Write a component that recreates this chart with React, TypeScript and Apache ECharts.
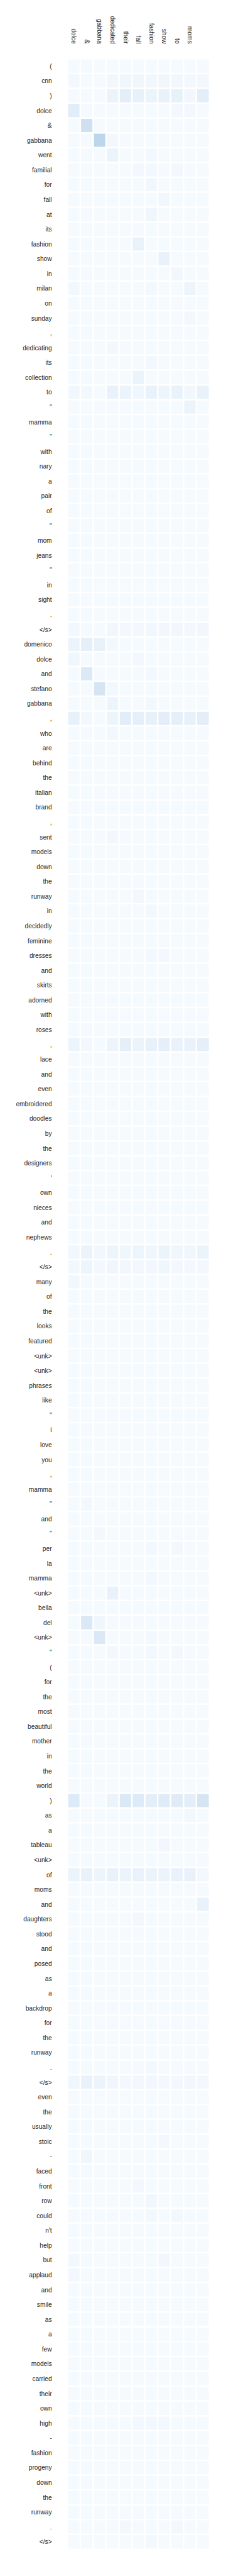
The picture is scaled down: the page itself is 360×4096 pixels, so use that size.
import React, { useEffect, useRef } from "react";
import * as echarts from "echarts";

const COL_LABELS = ["dolce", "&", "gabbana", "dedicated", "their", "fall", "fashion", "show", "to", "moms", ""];

const ROW_LABELS = [
  "(", "cnn", ")", "dolce", "&", "gabbana", "went", "familial", "for", "fall", "at", "its", "fashion", "show", "in",
  "milan", "on", "sunday", ",", "dedicating", "its", "collection", "to", "\"", "mamma", "\"", "with", "nary", "a", "pair",
  "of", "\"", "mom", "jeans", "\"", "in", "sight", ".", "</s>", "domenico", "dolce", "and", "stefano", "gabbana", ",",
  "who", "are", "behind", "the", "italian", "brand", ",", "sent", "models", "down", "the", "runway", "in", "decidedly", "feminine",
  "dresses", "and", "skirts", "adorned", "with", "roses", ",", "lace", "and", "even", "embroidered", "doodles", "by", "the", "designers",
  "'", "own", "nieces", "and", "nephews", ".", "</s>", "many", "of", "the", "looks", "featured", "<unk>", "<unk>", "phrases",
  "like", "\"", "i", "love", "you", ",", "mamma", "\"", "and", "\"", "per", "la", "mamma", "<unk>", "bella",
  "del", "<unk>", "\"", "(", "for", "the", "most", "beautiful", "mother", "in", "the", "world", ")", "as", "a",
  "tableau", "<unk>", "of", "moms", "and", "daughters", "stood", "and", "posed", "as", "a", "backdrop", "for", "the", "runway",
  ".", "</s>", "even", "the", "usually", "stoic", "-", "faced", "front", "row", "could", "n't", "help", "but", "applaud",
  "and", "smile", "as", "a", "few", "models", "carried", "their", "own", "high", "-", "fashion", "progeny", "down", "the", "runway", ".", "</s>",
];

// attention weights, in hundredths (one row per source token, one column per summary token)
const WEIGHTS: number[][] = [
  [1, 1, 1, 1, 1, 1, 1, 1, 1, 1, 1],
  [2, 1, 1, 3, 4, 4, 3, 4, 3, 2, 2],
  [1, 1, 1, 6, 10, 8, 6, 7, 8, 3, 10],
  [11, 1, 1, 1, 1, 1, 1, 1, 2, 2, 1],
  [1, 21, 1, 1, 1, 1, 1, 1, 1, 1, 1],
  [1, 1, 28, 2, 1, 1, 1, 1, 1, 1, 1],
  [1, 1, 1, 6, 1, 1, 2, 1, 1, 1, 1],
  [1, 1, 1, 1, 1, 2, 2, 1, 2, 1, 1],
  [1, 1, 1, 1, 1, 1, 3, 1, 1, 1, 1],
  [1, 1, 1, 1, 1, 1, 1, 3, 1, 1, 1],
  [1, 1, 1, 1, 1, 1, 4, 1, 1, 1, 1],
  [1, 1, 1, 1, 1, 1, 1, 1, 1, 1, 1],
  [1, 1, 1, 1, 1, 7, 1, 1, 1, 1, 1],
  [1, 1, 1, 1, 1, 1, 1, 7, 1, 1, 1],
  [1, 1, 1, 1, 1, 1, 1, 1, 3, 1, 1],
  [2, 1, 1, 1, 1, 1, 2, 1, 1, 5, 1],
  [1, 1, 1, 1, 1, 1, 1, 1, 1, 1, 1],
  [1, 1, 1, 1, 1, 1, 1, 1, 1, 2, 1],
  [1, 1, 1, 1, 1, 1, 1, 1, 1, 1, 1],
  [1, 1, 1, 2, 1, 1, 1, 1, 1, 1, 1],
  [1, 1, 1, 1, 1, 1, 2, 1, 1, 1, 1],
  [1, 1, 1, 1, 1, 6, 1, 1, 1, 1, 1],
  [3, 2, 1, 7, 6, 4, 7, 5, 7, 3, 7],
  [1, 1, 1, 1, 1, 1, 1, 1, 1, 6, 1],
  [1, 1, 1, 1, 1, 1, 1, 1, 1, 1, 1],
  [1, 1, 1, 1, 1, 1, 1, 1, 1, 1, 1],
  [1, 1, 1, 1, 1, 1, 1, 1, 1, 1, 1],
  [1, 1, 1, 1, 1, 1, 1, 1, 1, 1, 1],
  [1, 1, 1, 1, 1, 1, 1, 1, 1, 1, 1],
  [1, 1, 1, 1, 1, 1, 1, 1, 1, 1, 1],
  [1, 1, 1, 1, 1, 1, 1, 1, 1, 1, 1],
  [1, 1, 1, 1, 1, 1, 1, 1, 1, 1, 1],
  [1, 1, 1, 1, 1, 1, 1, 1, 1, 1, 1],
  [1, 1, 1, 1, 1, 1, 1, 1, 1, 1, 1],
  [1, 1, 1, 1, 1, 1, 1, 1, 1, 1, 1],
  [1, 1, 1, 1, 1, 1, 1, 1, 1, 1, 1],
  [1, 1, 1, 1, 1, 1, 1, 1, 1, 1, 1],
  [1, 1, 1, 1, 1, 1, 1, 1, 1, 1, 1],
  [2, 1, 1, 3, 2, 2, 3, 3, 3, 2, 3],
  [6, 9, 7, 2, 1, 1, 1, 1, 1, 1, 1],
  [4, 1, 1, 1, 1, 2, 1, 1, 1, 1, 1],
  [1, 14, 1, 1, 1, 1, 2, 1, 1, 1, 1],
  [1, 1, 17, 2, 1, 1, 1, 1, 1, 1, 1],
  [1, 1, 1, 5, 1, 1, 2, 1, 1, 1, 1],
  [8, 2, 1, 5, 11, 9, 8, 10, 9, 8, 10],
  [1, 1, 1, 2, 1, 1, 1, 1, 1, 1, 1],
  [1, 1, 1, 1, 1, 1, 1, 1, 1, 1, 1],
  [1, 1, 1, 1, 1, 1, 1, 1, 1, 1, 1],
  [1, 1, 1, 1, 1, 1, 1, 1, 1, 1, 1],
  [1, 1, 1, 1, 1, 1, 1, 1, 1, 1, 1],
  [1, 1, 1, 1, 1, 1, 1, 1, 1, 1, 1],
  [1, 1, 1, 1, 1, 1, 1, 1, 1, 1, 1],
  [1, 1, 1, 2, 1, 1, 1, 1, 1, 1, 1],
  [1, 1, 1, 1, 1, 1, 1, 1, 1, 1, 1],
  [1, 1, 1, 1, 1, 1, 1, 1, 1, 1, 1],
  [1, 1, 1, 1, 1, 1, 1, 1, 1, 1, 1],
  [1, 1, 1, 1, 1, 2, 1, 1, 1, 1, 1],
  [1, 1, 1, 1, 1, 1, 2, 1, 1, 1, 1],
  [1, 1, 1, 1, 1, 1, 1, 1, 1, 1, 1],
  [1, 1, 1, 1, 1, 1, 1, 1, 1, 1, 1],
  [1, 1, 1, 1, 1, 1, 2, 2, 1, 1, 1],
  [1, 1, 1, 1, 1, 1, 1, 1, 1, 1, 1],
  [1, 1, 1, 1, 1, 1, 1, 1, 1, 1, 1],
  [1, 1, 1, 1, 1, 1, 1, 1, 1, 1, 1],
  [1, 1, 1, 1, 1, 1, 1, 1, 1, 1, 1],
  [1, 1, 1, 1, 1, 1, 1, 1, 1, 1, 1],
  [5, 2, 1, 5, 9, 6, 8, 9, 7, 7, 9],
  [1, 1, 1, 1, 1, 1, 1, 1, 1, 1, 1],
  [1, 1, 1, 1, 1, 1, 1, 1, 1, 1, 1],
  [1, 1, 1, 1, 1, 1, 1, 1, 1, 1, 1],
  [1, 1, 1, 1, 1, 1, 1, 1, 1, 1, 1],
  [1, 1, 1, 1, 1, 1, 1, 1, 1, 1, 1],
  [1, 1, 1, 1, 1, 1, 1, 1, 1, 1, 1],
  [1, 1, 1, 1, 1, 1, 1, 1, 1, 1, 1],
  [1, 1, 1, 1, 1, 1, 1, 1, 1, 1, 1],
  [1, 1, 1, 1, 1, 1, 1, 1, 1, 1, 1],
  [1, 1, 1, 1, 1, 1, 1, 1, 1, 1, 1],
  [1, 1, 1, 1, 1, 1, 1, 1, 1, 1, 1],
  [1, 1, 1, 1, 1, 1, 1, 1, 1, 1, 1],
  [1, 1, 1, 1, 1, 1, 1, 1, 1, 1, 1],
  [3, 6, 3, 5, 4, 5, 4, 6, 4, 4, 6],
  [2, 5, 2, 4, 3, 3, 3, 4, 2, 2, 2],
  [3, 1, 1, 1, 1, 1, 1, 1, 1, 1, 1],
  [1, 1, 1, 1, 1, 1, 1, 1, 1, 1, 1],
  [1, 1, 1, 1, 1, 1, 1, 1, 1, 1, 1],
  [1, 1, 1, 1, 1, 1, 1, 1, 1, 1, 1],
  [1, 1, 1, 1, 1, 1, 1, 1, 1, 1, 1],
  [1, 1, 1, 1, 1, 1, 1, 1, 1, 1, 1],
  [1, 1, 1, 1, 1, 1, 1, 1, 1, 1, 1],
  [1, 1, 1, 1, 1, 1, 1, 1, 1, 1, 1],
  [1, 1, 1, 1, 1, 1, 1, 1, 1, 1, 1],
  [1, 1, 1, 1, 1, 1, 1, 1, 1, 1, 1],
  [1, 1, 1, 1, 1, 1, 1, 1, 1, 1, 1],
  [1, 1, 1, 1, 1, 1, 1, 1, 1, 1, 1],
  [1, 1, 1, 1, 1, 1, 1, 1, 1, 1, 1],
  [1, 1, 1, 1, 1, 1, 1, 1, 1, 1, 1],
  [1, 1, 1, 1, 1, 1, 1, 1, 1, 1, 1],
  [1, 2, 1, 1, 1, 1, 1, 1, 1, 1, 1],
  [1, 1, 1, 1, 1, 1, 1, 1, 1, 1, 1],
  [1, 1, 2, 1, 1, 1, 1, 1, 1, 1, 1],
  [1, 1, 1, 1, 1, 1, 2, 1, 2, 1, 1],
  [1, 1, 1, 1, 1, 1, 1, 1, 1, 1, 1],
  [1, 1, 1, 1, 1, 1, 2, 1, 1, 1, 1],
  [1, 1, 1, 7, 1, 1, 1, 1, 1, 1, 1],
  [1, 1, 1, 1, 1, 1, 1, 1, 1, 1, 1],
  [1, 15, 4, 1, 1, 1, 1, 1, 1, 1, 1],
  [1, 1, 14, 1, 1, 1, 2, 1, 1, 1, 1],
  [1, 1, 1, 2, 1, 1, 2, 1, 2, 1, 1],
  [1, 1, 1, 1, 1, 1, 1, 1, 1, 1, 1],
  [1, 1, 1, 1, 1, 1, 1, 1, 1, 1, 1],
  [1, 1, 1, 1, 1, 1, 1, 1, 1, 1, 1],
  [1, 1, 1, 1, 1, 1, 1, 1, 1, 1, 1],
  [1, 1, 1, 1, 1, 1, 1, 1, 1, 1, 1],
  [1, 1, 1, 1, 1, 1, 1, 1, 1, 1, 1],
  [1, 1, 1, 1, 1, 1, 1, 1, 1, 1, 1],
  [1, 1, 1, 1, 1, 1, 1, 1, 1, 1, 1],
  [1, 1, 1, 1, 1, 1, 1, 1, 1, 1, 1],
  [13, 1, 1, 6, 14, 13, 10, 12, 12, 10, 17],
  [1, 1, 1, 1, 1, 1, 1, 1, 1, 2, 1],
  [1, 1, 1, 1, 1, 1, 1, 1, 1, 1, 1],
  [1, 1, 1, 1, 1, 1, 1, 3, 1, 1, 1],
  [1, 1, 1, 1, 1, 1, 1, 1, 1, 1, 1],
  [6, 7, 5, 7, 6, 7, 6, 6, 7, 7, 2],
  [1, 1, 1, 1, 1, 1, 1, 1, 1, 1, 1],
  [1, 1, 1, 1, 1, 1, 1, 1, 1, 1, 7],
  [1, 1, 1, 1, 1, 2, 1, 1, 1, 1, 1],
  [1, 1, 1, 1, 1, 1, 1, 1, 1, 1, 1],
  [1, 1, 1, 1, 1, 1, 1, 1, 1, 1, 1],
  [1, 1, 1, 1, 1, 1, 1, 1, 1, 1, 1],
  [1, 1, 1, 1, 1, 1, 1, 1, 1, 1, 1],
  [1, 1, 1, 1, 1, 1, 1, 1, 1, 1, 1],
  [1, 1, 1, 1, 1, 1, 1, 1, 1, 1, 1],
  [1, 1, 1, 1, 1, 1, 1, 1, 1, 1, 1],
  [1, 1, 1, 1, 1, 1, 1, 1, 1, 1, 1],
  [1, 1, 1, 1, 1, 1, 1, 1, 1, 1, 1],
  [1, 1, 1, 1, 1, 1, 2, 1, 1, 1, 1],
  [4, 7, 6, 4, 2, 3, 3, 2, 2, 3, 2],
  [1, 1, 1, 1, 1, 1, 1, 1, 1, 1, 1],
  [1, 1, 1, 1, 1, 1, 1, 1, 1, 1, 1],
  [1, 1, 1, 1, 1, 1, 1, 1, 1, 1, 1],
  [1, 1, 1, 1, 1, 1, 1, 2, 1, 1, 1],
  [1, 4, 1, 1, 1, 1, 1, 1, 1, 1, 1],
  [1, 1, 1, 1, 1, 1, 1, 1, 1, 1, 1],
  [1, 1, 1, 1, 1, 2, 1, 1, 1, 1, 1],
  [1, 1, 1, 1, 1, 1, 3, 1, 1, 1, 1],
  [1, 1, 1, 1, 1, 1, 2, 1, 2, 1, 1],
  [1, 1, 1, 1, 1, 1, 1, 1, 1, 1, 1],
  [1, 1, 1, 1, 1, 1, 1, 1, 1, 1, 1],
  [2, 1, 1, 1, 1, 1, 1, 3, 1, 1, 1],
  [2, 1, 1, 1, 1, 1, 1, 1, 1, 1, 1],
  [1, 1, 1, 1, 1, 1, 1, 1, 1, 1, 1],
  [1, 1, 1, 1, 1, 1, 1, 1, 1, 1, 1],
  [1, 1, 1, 1, 1, 1, 1, 1, 1, 1, 1],
  [1, 1, 1, 1, 1, 1, 1, 1, 1, 1, 1],
  [1, 1, 1, 1, 1, 1, 1, 1, 1, 1, 1],
  [1, 1, 1, 1, 1, 1, 1, 1, 1, 1, 1],
  [1, 1, 1, 1, 1, 1, 1, 1, 1, 1, 1],
  [1, 1, 1, 1, 1, 1, 1, 1, 1, 1, 1],
  [1, 1, 1, 1, 1, 1, 1, 1, 1, 1, 1],
  [1, 1, 1, 1, 1, 2, 2, 2, 1, 1, 1],
  [1, 1, 1, 1, 1, 1, 1, 1, 1, 1, 1],
  [1, 1, 1, 1, 1, 1, 1, 1, 1, 1, 1],
  [1, 1, 1, 1, 1, 1, 1, 1, 1, 1, 1],
  [1, 1, 1, 1, 1, 1, 1, 1, 1, 1, 1],
  [1, 1, 1, 1, 1, 1, 1, 1, 1, 1, 1],
  [1, 1, 1, 1, 1, 1, 1, 1, 1, 1, 1],
  [1, 1, 1, 1, 2, 1, 1, 1, 2, 1, 1],
  [1, 1, 1, 1, 1, 1, 2, 1, 1, 1, 1],
];

const BLUES = ["#f7fbff", "#deebf7", "#c6dbef", "#9ecae1", "#6baed6", "#4292c6", "#2171b5", "#08519c", "#08306b"];

export default function App() {
  const ref = useRef<HTMLDivElement>(null);
  useEffect(() => {
    if (!ref.current) return;
    const chart = echarts.init(ref.current, null, { renderer: "svg" });
    const data: [number, number, number][] = [];
    WEIGHTS.forEach((row, r) => row.forEach((v, c) => data.push([c, r, v / 100])));
    const font = "'Liberation Sans', Arial, sans-serif";
    chart.setOption({
      animation: false,
      grid: { left: 107.6, top: 93.6, width: 226, height: 3960 },
      xAxis: {
        type: "category",
        position: "top",
        data: COL_LABELS,
        axisLine: { show: false },
        axisTick: { show: false },
        splitLine: { show: false },
        axisLabel: { interval: 0, rotate: 90, margin: 24, fontSize: 10.2, color: "#262626", fontFamily: font },
      },
      yAxis: {
        type: "category",
        inverse: true,
        data: ROW_LABELS,
        axisLine: { show: false },
        axisTick: { show: false },
        splitLine: { show: false },
        axisLabel: { interval: 0, margin: 25, fontSize: 10.2, color: "#262626", fontFamily: font },
      },
      visualMap: { show: false, type: "continuous", min: 0, max: 1, dimension: 2, inRange: { color: BLUES } },
      series: [
        {
          type: "heatmap",
          data,
          itemStyle: { borderColor: "#ffffff", borderWidth: 2.5 },
          emphasis: { disabled: true },
        },
      ],
    });
    return () => chart.dispose();
  }, []);
  return <div ref={ref} style={{ position: "absolute", left: 0, top: 0, width: 360, height: 4092 }} />;
}
